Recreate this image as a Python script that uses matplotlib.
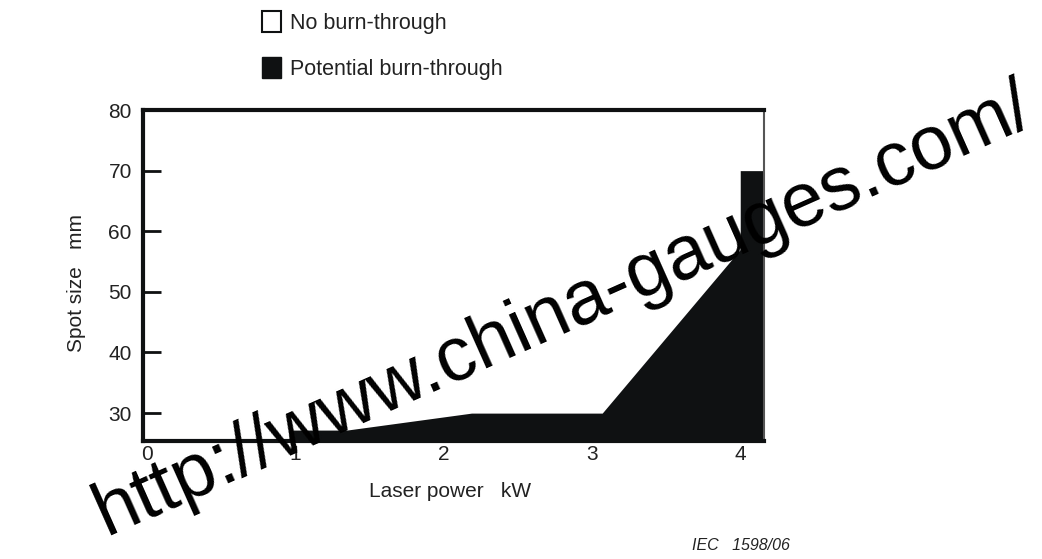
#!/usr/bin/env python3
# -*- coding: utf-8 -*-
"""
Spot size vs laser power: burn-through regions
"""

import matplotlib
matplotlib.use("Agg")
import matplotlib.pyplot as plt
from matplotlib.patches import Patch

plt.rcParams['font.family'] = ['Liberation Sans', 'DejaVu Sans']

## Data
# boundary of the potential burn-through region (kW, mm)
bt_power = [0.96, 1.35, 2.19, 3.07, 4.0, 4.0, 4.16]
bt_spot = [27.2, 27.2, 30.0, 30.0, 57.0, 70.0, 70.0]

x_ticks = [0, 1, 2, 3, 4]
y_ticks = [30, 40, 50, 60, 70, 80]
x_lim = (-0.024, 4.16)
y_lim = (25.4, 80)

legend_labels = ['No burn-through', 'Potential burn-through']
watermark = 'http://www.china-gauges.com/'

black = '#0f1112'
text_col = '#222222'

fig = plt.figure(figsize=(10.42, 5.59), dpi=100)
ax = fig.add_axes([0.1372, 0.2111, 0.596, 0.5921])

ax.fill_between(bt_power, bt_spot, y_lim[0], color=black, linewidth=0)

ax.set_xlim(*x_lim)
ax.set_ylim(*y_lim)
ax.set_xticks(x_ticks)
ax.set_yticks(y_ticks)

for side in ['left', 'top', 'bottom']:
    ax.spines[side].set_linewidth(3)
    ax.spines[side].set_color(black)
ax.spines['right'].set_linewidth(1.5)
ax.spines['right'].set_color('#555555')

ax.tick_params(axis='y', direction='in', length=13, width=2, color=black,
               pad=8, labelsize=15, labelcolor=text_col)
ax.tick_params(axis='x', length=0, pad=3, labelsize=15, labelcolor=text_col)
# 80 sits on the top spine, no tick mark shown there
ax.yaxis.get_major_ticks()[-1].tick1line.set_visible(False)

ax.text(-0.107, 0.477, 'Spot size   mm', transform=ax.transAxes, rotation=90,
        ha='center', va='center', fontsize=15, color=text_col)
ax.text(0.494, -0.154, 'Laser power   kW', transform=ax.transAxes,
        ha='center', va='center', fontsize=15, color=text_col)

fig.text(0.664, 0.025, 'IEC   1598/06', style='italic', fontsize=11.5,
         color=text_col, ha='left', va='center')

handles = [Patch(facecolor='white', edgecolor=black, linewidth=1.5),
           Patch(facecolor=black, edgecolor=black)]
fig.legend(handles, legend_labels, loc='upper left',
           bbox_to_anchor=(262 / 1042, 1 - 11 / 559), bbox_transform=fig.transFigure,
           frameon=False, borderaxespad=0, borderpad=0, fontsize=15.5,
           handlelength=0.9, handleheight=1.15, handletextpad=0.4,
           labelspacing=1.05, labelcolor=text_col)

# watermark across the figure
fig.text(0.541, 0.444, watermark, rotation=24, rotation_mode='anchor',
         ha='center', va='center', fontsize=55, color='black', zorder=10)

fig.savefig('out.png', dpi=100)
